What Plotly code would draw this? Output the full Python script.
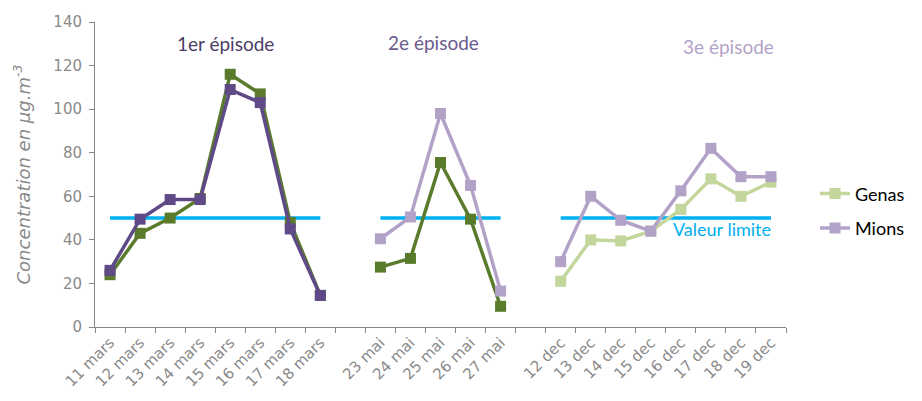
import plotly.graph_objects as go

# ---- data ----
dates_ep1 = ["11 mars", "12 mars", "13 mars", "14 mars", "15 mars", "16 mars", "17 mars", "18 mars"]
dates_ep2 = ["23 mai", "24 mai", "25 mai", "26 mai", "27 mai"]
dates_ep3 = ["12 dec", "13 dec", "14 dec", "15 dec", "16 dec", "17 dec", "18 dec", "19 dec"]
gap1 = " "
gap2 = "  "
categories = dates_ep1 + [gap1] + dates_ep2 + [gap2] + dates_ep3

genas_ep1 = [24, 43, 50, 59, 116, 107, 48, 14.5]
mions_ep1 = [26, 49.5, 58.5, 58.5, 109, 103, 45, 14.5]
genas_ep2 = [27.5, 31.5, 75.5, 49.5, 9.5]
mions_ep2 = [40.5, 50.5, 98, 65, 16.5]
genas_ep3 = [21, 40, 39.5, 44, 54, 68, 60, 66.5]
mions_ep3 = [30, 60, 49, 44, 62.5, 82, 69, 69]
valeur_limite = 50

episode_titles = ["1er épisode", "2e épisode", "3e épisode"]

# ---- styles ----
dark_green = "#5a7a2c"
dark_purple = "#5f4a87"
light_green = "#c3d69b"
light_purple = "#b3a2c7"
cyan = "#00b0f0"

fig = go.Figure()

# limit lines
for dates in (dates_ep1, dates_ep2, dates_ep3):
    fig.add_trace(go.Scatter(x=dates, y=[valeur_limite] * len(dates), mode="lines",
                             line=dict(color=cyan, width=3.5), showlegend=False,
                             hoverinfo="skip"))

def series(dates, vals, color, name, show):
    fig.add_trace(go.Scatter(
        x=dates, y=vals, mode="lines+markers", name=name,
        line=dict(color=color, width=3.5),
        marker=dict(symbol="square", size=11, color=color),
        showlegend=show, legendgroup=name,
    ))

series(dates_ep1, genas_ep1, dark_green, "Genas", False)
series(dates_ep1, mions_ep1, dark_purple, "Mions", False)
series(dates_ep2, genas_ep2, dark_green, "Genas", False)
series(dates_ep2, mions_ep2, light_purple, "Mions", False)
series(dates_ep3, genas_ep3, light_green, "Genas", True)
series(dates_ep3, mions_ep3, light_purple, "Mions", True)

title_font = "Lato, 'Open Sans', sans-serif"
fig.add_annotation(x=3.85, y=130, xref="x", yref="y", text=episode_titles[0], showarrow=False,
                   font=dict(family=title_font, size=19, color="#4a3d66"))
fig.add_annotation(x=10.78, y=130.6, xref="x", yref="y", text=episode_titles[1], showarrow=False,
                   font=dict(family=title_font, size=19, color="#6a5a8e"))
fig.add_annotation(x=20.6, y=128.8, xref="x", yref="y", text=episode_titles[2], showarrow=False,
                   font=dict(family=title_font, size=19, color=light_purple))
fig.add_annotation(x=20.38, y=45.0, xref="x", yref="y", text="Valeur limite", showarrow=False,
                   font=dict(family=title_font, size=18, color=cyan))

axis_gray = "#868686"
tick_font = dict(family="DejaVu Sans, Verdana, sans-serif", size=15, color="#8a8a8a")

fig.update_layout(
    width=922, height=401,
    margin=dict(l=95, r=134, t=22, b=74),
    paper_bgcolor="white", plot_bgcolor="white",
    xaxis=dict(type="category", categoryorder="array", categoryarray=categories,
               range=[-0.5, len(categories) - 0.5], tickson="boundaries",
               ticks="outside", ticklen=5, tickcolor=axis_gray, showline=True,
               linecolor=axis_gray, linewidth=1, showgrid=False, tickangle=-45,
               tickfont=tick_font, zeroline=False),
    yaxis=dict(range=[0, 140], dtick=20, ticks="outside", ticklen=5, tickcolor=axis_gray,
               showline=True, linecolor=axis_gray, linewidth=1, showgrid=False,
               zeroline=False, tickfont=tick_font, ticklabelstandoff=4,
               title=dict(text="<i>Concentration en µg.m<sup>-3</sup></i>",
                          font=dict(family="DejaVu Sans, Verdana, sans-serif", size=18, color="#8a8a8a"),
                          standoff=18)),
    legend=dict(x=1.042, y=0.497, xanchor="left", yanchor="top", tracegroupgap=8,
                font=dict(family=title_font, size=18, color="#000000"),
                bgcolor="rgba(0,0,0,0)"),
    showlegend=True,
)

fig.write_html("out.html")
